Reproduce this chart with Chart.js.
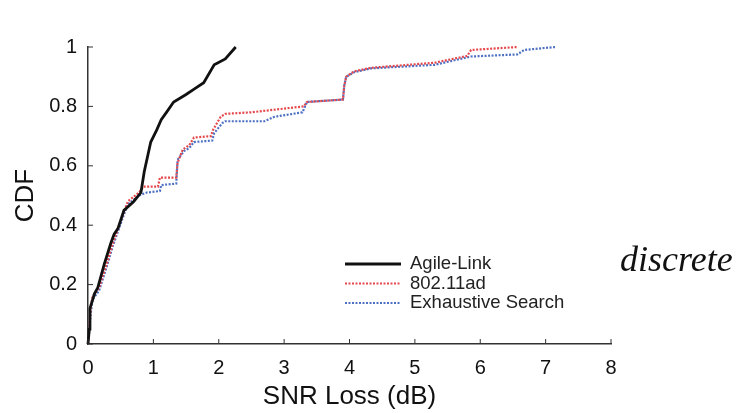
<!DOCTYPE html>
<html>
<head>
<meta charset="utf-8">
<script src="https://cdn.jsdelivr.net/npm/chart.js@4/dist/chart.umd.min.js"></script>
<style>
  body { margin: 0; background: #fff; }
</style>
</head>
<body>
<canvas id="chart" width="739" height="413"></canvas>
<script>
// values (SNR loss in dB, CDF)
var agileX = [0, 0.02, 0.03, 0.1, 0.15, 0.25, 0.35, 0.4, 0.46, 0.55, 0.7, 0.81, 0.86, 0.96, 1.05, 1.12, 1.2, 1.31, 1.5, 1.6, 1.77, 1.93, 2.1, 2.26];
var agileY = [0, 0.05, 0.12, 0.17, 0.19, 0.27, 0.34, 0.37, 0.39, 0.45, 0.48, 0.51, 0.58, 0.68, 0.72, 0.755, 0.78, 0.815, 0.84, 0.855, 0.88, 0.94, 0.96, 1.0];

var adX = [0, 0.02, 0.04, 0.07, 0.17, 0.3, 0.38, 0.46, 0.54, 0.61, 0.78, 0.85, 1.07, 1.1, 1.35, 1.37, 1.45, 1.55, 1.62, 1.88, 1.91, 2.03, 2.1, 2.49, 3.3, 3.35, 3.9, 3.92, 3.95, 4.07, 4.33, 5.3, 5.8, 5.86, 6.57];
var adY = [0, 0.05, 0.12, 0.16, 0.19, 0.28, 0.34, 0.39, 0.44, 0.48, 0.51, 0.53, 0.53, 0.56, 0.56, 0.61, 0.655, 0.67, 0.695, 0.70, 0.72, 0.765, 0.775, 0.78, 0.80, 0.815, 0.823, 0.87, 0.90, 0.918, 0.93, 0.947, 0.97, 0.99, 1.0];

var exX = [0, 0.02, 0.04, 0.07, 0.17, 0.3, 0.38, 0.46, 0.54, 0.61, 0.78, 0.9, 1.1, 1.12, 1.35, 1.37, 1.47, 1.55, 1.62, 1.9, 1.93, 2.06, 2.1, 2.7, 2.85, 3.28, 3.35, 3.9, 3.92, 3.95, 4.07, 4.33, 5.3, 5.86, 6.57, 6.67, 7.15];
var exY = [0, 0.05, 0.1, 0.15, 0.18, 0.27, 0.33, 0.38, 0.43, 0.47, 0.5, 0.51, 0.515, 0.535, 0.54, 0.62, 0.65, 0.66, 0.68, 0.685, 0.71, 0.745, 0.75, 0.75, 0.765, 0.78, 0.815, 0.823, 0.87, 0.90, 0.915, 0.928, 0.94, 0.968, 0.975, 0.99, 1.0];

var seriesNames = ["Agile-Link", "802.11ad", "Exhaustive Search"];
var xTicks = [0, 1, 2, 3, 4, 5, 6, 7, 8];
var yTicks = [0, 0.2, 0.4, 0.6, 0.8, 1];

function pts(xs, ys){
    var out = [];
    xs.forEach(function(v, i){
        out.push({x: v, y: ys[i]});
    });
    return out;
}

var FONT = "'Liberation Sans', Arial, Helvetica, sans-serif";

// small inward tick marks like the original figure
var inwardTicks = {
    id: 'inwardTicks',
    afterDraw: function(chart){
        var ctx = chart.ctx;
        var xs = chart.scales.x, ys = chart.scales.y;
        var area = chart.chartArea;
        ctx.save();
        ctx.strokeStyle = '#333';
        ctx.lineWidth = 1;
        xTicks.forEach(function(v){
            var px = xs.getPixelForValue(v);
            ctx.beginPath();
            ctx.moveTo(px, area.bottom);
            ctx.lineTo(px, area.bottom - 5);
            ctx.stroke();
        });
        yTicks.forEach(function(v){
            var py = ys.getPixelForValue(v);
            ctx.beginPath();
            ctx.moveTo(area.left, py);
            ctx.lineTo(area.left + 5, py);
            ctx.stroke();
        });
        ctx.restore();
    }
};

// legend inside the plot, lower right
var insideLegend = {
    id: 'insideLegend',
    afterDraw: function(chart){
        var ctx = chart.ctx;
        ctx.save();
        ctx.font = "18.5px " + FONT;
        ctx.textBaseline = 'middle';
        ctx.textAlign = 'left';
        chart.data.datasets.forEach(function(ds, i){
            var y = 264 + i * 19.5;
            ctx.strokeStyle = ds.borderColor;
            ctx.lineWidth = ds.borderWidth;
            ctx.setLineDash(ds.borderDash || []);
            ctx.beginPath();
            ctx.moveTo(345, y);
            ctx.lineTo(401, y);
            ctx.stroke();
            ctx.setLineDash([]);
            ctx.fillStyle = '#222';
            ctx.fillText(ds.label, 410, y);
        });
        // handwritten note on the figure
        ctx.font = "italic 36px 'Liberation Serif', serif";
        ctx.fillStyle = '#111';
        ctx.fillText("discrete", 620, 262);
        ctx.restore();
    }
};

var ctx = document.getElementById("chart").getContext("2d");

var myChart = new Chart(ctx, {
    type: 'scatter',
    data: {
        datasets: [
            {
                label: seriesNames[0],
                data: pts(agileX, agileY),
                showLine: true,
                borderColor: '#111',
                borderWidth: 2.8,
                pointRadius: 0,
                clip: 4
            },
            {
                label: seriesNames[1],
                data: pts(adX, adY),
                showLine: true,
                borderColor: '#e5474b',
                borderWidth: 2.2,
                borderDash: [2, 1.5],
                pointRadius: 0,
                clip: 4
            },
            {
                label: seriesNames[2],
                data: pts(exX, exY),
                showLine: true,
                borderColor: '#4d70c2',
                borderWidth: 2.2,
                borderDash: [2, 1.5],
                pointRadius: 0,
                clip: 4
            }
        ]
    },
    options: {
        responsive: false,
        animation: false,
        layout: { padding: { left: 0, right: 128, top: 47, bottom: 0 } },
        plugins: {
            legend: { display: false },
            tooltip: { enabled: false }
        },
        scales: {
            x: {
                type: 'linear',
                min: 0,
                max: 8,
                afterBuildTicks: function(scale){
                    scale.ticks = xTicks.map(function(v){ return {value: v}; });
                },
                afterFit: function(scale){ scale.height = 69; },
                grid: { display: false, drawTicks: false },
                border: { display: true, color: '#333', width: 1.5 },
                ticks: {
                    color: '#111',
                    padding: 12,
                    maxRotation: 0,
                    font: { family: FONT, size: 20 }
                },
                title: {
                    display: true,
                    text: 'SNR Loss (dB)',
                    color: '#111',
                    padding: { top: 0, bottom: 1 },
                    font: { family: FONT, size: 26 }
                }
            },
            y: {
                type: 'linear',
                min: 0,
                max: 1,
                afterBuildTicks: function(scale){
                    scale.ticks = yTicks.map(function(v){ return {value: v}; });
                },
                afterFit: function(scale){ scale.width = 88; },
                grid: { display: false, drawTicks: false },
                border: { display: true, color: '#333', width: 1.5 },
                ticks: {
                    color: '#111',
                    padding: 11,
                    font: { family: FONT, size: 20 },
                    callback: function(v){ return String(Math.round(v * 10) / 10); }
                },
                title: {
                    display: true,
                    text: 'CDF',
                    color: '#111',
                    padding: { top: 10, bottom: 0 },
                    font: { family: FONT, size: 26 }
                }
            }
        }
    },
    plugins: [inwardTicks, insideLegend]
});
</script>
</body>
</html>
